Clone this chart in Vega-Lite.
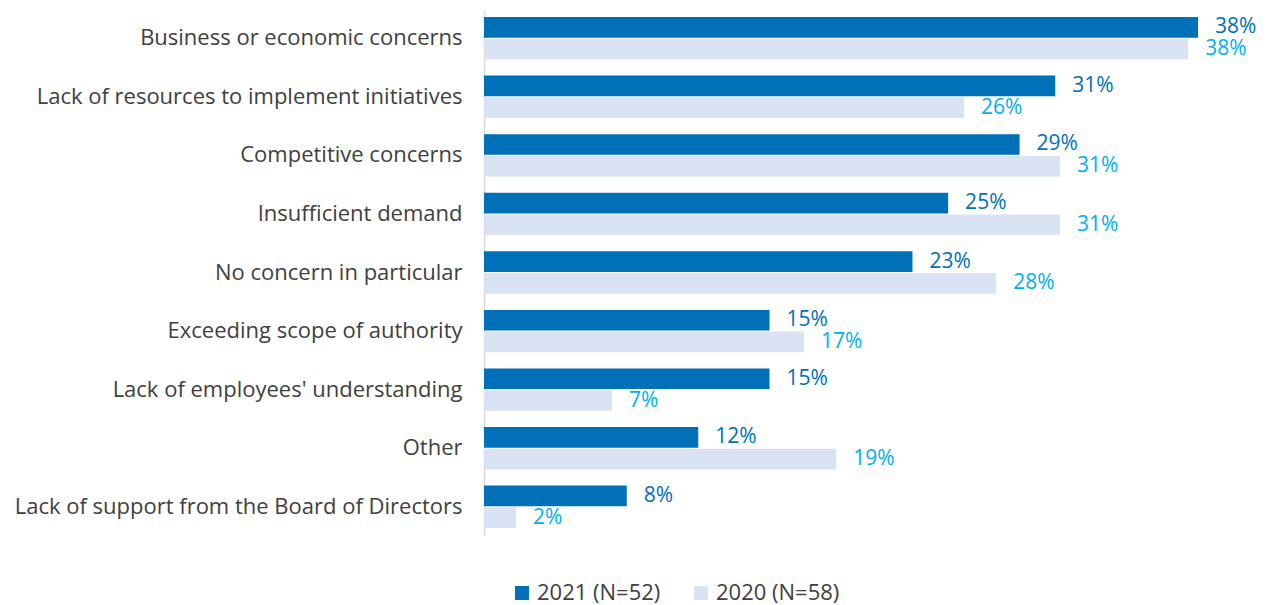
{
  "$schema": "https://vega.github.io/schema/vega-lite/v6.json",
  "autosize": {"type": "none"},
  "padding": {"left": 484, "top": 10, "right": 72, "bottom": 70},
  "width": 714,
  "height": 525,
  "background": "white",
  "config": {
    "view": {"stroke": null},
    "font": "Open Sans",
    "text": {"font": "Open Sans"}
  },
  "data": {
    "values": [
      {"category": "Business or economic concerns", "series": "2021 (N=52)", "value": 0.3846},
      {"category": "Business or economic concerns", "series": "2020 (N=58)", "value": 0.3793},
      {"category": "Lack of resources to implement initiatives", "series": "2021 (N=52)", "value": 0.3077},
      {"category": "Lack of resources to implement initiatives", "series": "2020 (N=58)", "value": 0.2586},
      {"category": "Competitive concerns", "series": "2021 (N=52)", "value": 0.2885},
      {"category": "Competitive concerns", "series": "2020 (N=58)", "value": 0.3103},
      {"category": "Insufficient demand", "series": "2021 (N=52)", "value": 0.25},
      {"category": "Insufficient demand", "series": "2020 (N=58)", "value": 0.3103},
      {"category": "No concern in particular", "series": "2021 (N=52)", "value": 0.2308},
      {"category": "No concern in particular", "series": "2020 (N=58)", "value": 0.2759},
      {"category": "Exceeding scope of authority", "series": "2021 (N=52)", "value": 0.1538},
      {"category": "Exceeding scope of authority", "series": "2020 (N=58)", "value": 0.1724},
      {"category": "Lack of employees' understanding", "series": "2021 (N=52)", "value": 0.1538},
      {"category": "Lack of employees' understanding", "series": "2020 (N=58)", "value": 0.069},
      {"category": "Other", "series": "2021 (N=52)", "value": 0.1154},
      {"category": "Other", "series": "2020 (N=58)", "value": 0.1897},
      {"category": "Lack of support from the Board of Directors", "series": "2021 (N=52)", "value": 0.0769},
      {"category": "Lack of support from the Board of Directors", "series": "2020 (N=58)", "value": 0.0172}
    ]
  },
  "encoding": {
    "y": {
      "field": "category",
      "type": "nominal",
      "sort": null,
      "scale": {"paddingInner": 0.277, "paddingOuter": 0.12},
      "axis": {
        "title": null,
        "ticks": false,
        "labelFontSize": 22,
        "labelColor": "#404040",
        "labelPadding": 22,
        "labelLimit": 480,
        "domainColor": "#d9d9d9",
        "domainWidth": 1.5
      }
    },
    "yOffset": {
      "field": "series",
      "type": "nominal",
      "sort": ["2021 (N=52)", "2020 (N=58)"],
      "scale": {"paddingInner": 0.05}
    },
    "x": {
      "field": "value",
      "type": "quantitative",
      "scale": {"domain": [0, 0.3846], "nice": false},
      "axis": null
    }
  },
  "layer": [
    {
      "mark": {"type": "bar"},
      "encoding": {
        "color": {
          "field": "series",
          "type": "nominal",
          "scale": {"domain": ["2021 (N=52)", "2020 (N=58)"], "range": ["#0071B9", "#DAE3F3"]},
          "legend": {
            "title": null,
            "orient": "none",
            "legendX": 27,
            "legendY": 572,
            "direction": "horizontal",
            "symbolType": "square",
            "symbolSize": 196,
            "symbolStrokeWidth": 0,
            "labelFontSize": 22,
            "labelColor": "#404040",
            "columnPadding": 29,
            "labelOffset": 4
          }
        }
      }
    },
    {
      "mark": {"type": "text", "align": "left", "baseline": "middle", "dx": 17, "fontSize": 21},
      "encoding": {
        "text": {"field": "value", "type": "quantitative", "format": ".0%"},
        "color": {
          "field": "series",
          "type": "nominal",
          "scale": {"domain": ["2021 (N=52)", "2020 (N=58)"], "range": ["#0070B8", "#00B0F0"]},
          "legend": null
        }
      }
    }
  ],
  "resolve": {"scale": {"color": "independent"}}
}
